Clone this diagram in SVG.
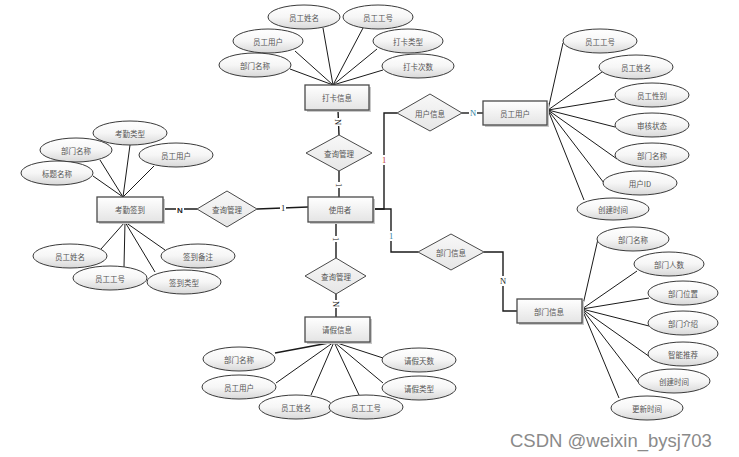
<svg xmlns="http://www.w3.org/2000/svg" width="739" height="457" viewBox="0 0 739 457">
<defs>
<linearGradient id="ge" x1="0" y1="0" x2="0" y2="1">
<stop offset="0" stop-color="#ffffff"/><stop offset="0.5" stop-color="#f6f6f6"/><stop offset="1" stop-color="#d8d8d8"/>
</linearGradient>
<linearGradient id="gr" x1="0" y1="0" x2="0" y2="1">
<stop offset="0" stop-color="#ffffff"/><stop offset="1" stop-color="#e4e4e4"/>
</linearGradient>
<linearGradient id="gd" x1="0" y1="0" x2="0" y2="1">
<stop offset="0" stop-color="#f8f8f8"/><stop offset="1" stop-color="#e6e6e6"/>
</linearGradient>
</defs>
<style>
ellipse{fill:url(#ge);stroke:#3a3a3a;stroke-width:1}
.en rect.b{fill:url(#gr);stroke:#4a4a4a;stroke-width:1.3}
.en rect.s{fill:#c8c8c8;stroke:none}
polygon{fill:url(#gd);stroke:#4a4a4a;stroke-width:1}
text{font-family:"Noto Sans CJK SC","Liberation Sans",sans-serif;font-size:7.5px;fill:#555;text-anchor:middle;dominant-baseline:central}
#connectors line,#connectors polyline{stroke:#1a1a1a;stroke-width:1;fill:none}
#connectors .t{stroke-width:1.4}
#connectors rect{fill:#ffffff;stroke:none}
.lb{font-family:"Liberation Serif",serif;font-size:8.5px;fill:#222}
.red{fill:#c03030}
.blue{fill:#3080a0}
.wm{font-family:"Liberation Sans",Arial,sans-serif;font-size:18.5px;fill:#8a8a8a;text-anchor:start;dominant-baseline:alphabetic}
</style>
<g id="connectors">
<line x1="323" y1="28" x2="333" y2="85"/>
<line x1="363" y1="28" x2="333" y2="85"/>
<line x1="295" y1="51" x2="333" y2="85"/>
<line x1="377" y1="49" x2="333" y2="85"/>
<line x1="290" y1="69" x2="333" y2="85"/>
<line x1="383" y1="70" x2="333" y2="85"/>
<line x1="130" y1="145" x2="123" y2="197"/>
<line x1="100" y1="160" x2="123" y2="197"/>
<line x1="154" y1="166" x2="123" y2="197"/>
<line x1="93" y1="176" x2="123" y2="197"/>
<line x1="101" y1="249" x2="125" y2="222"/>
<line x1="124" y1="267" x2="125" y2="222"/>
<line x1="165" y1="250" x2="125" y2="222"/>
<line x1="155" y1="272" x2="125" y2="222"/>
<line x1="563" y1="43" x2="548" y2="110"/>
<line x1="602" y1="72" x2="548" y2="110"/>
<line x1="615" y1="99" x2="548" y2="110"/>
<line x1="615" y1="127" x2="548" y2="110"/>
<line x1="617" y1="159" x2="548" y2="110"/>
<line x1="604" y1="183" x2="548" y2="110"/>
<line x1="584" y1="200" x2="548" y2="110"/>
<line x1="598" y1="239" x2="582" y2="309"/>
<line x1="637" y1="271" x2="582" y2="309"/>
<line x1="649" y1="298" x2="582" y2="309"/>
<line x1="649" y1="326" x2="582" y2="309"/>
<line x1="650" y1="357" x2="582" y2="309"/>
<line x1="639" y1="383" x2="582" y2="309"/>
<line x1="619" y1="398" x2="582" y2="309"/>
<line x1="275" y1="353" x2="334" y2="342" class="t"/>
<line x1="276" y1="383" x2="334" y2="342"/>
<line x1="311" y1="395" x2="334" y2="342"/>
<line x1="359" y1="395" x2="334" y2="342"/>
<line x1="383" y1="358" x2="334" y2="342"/>
<line x1="383" y1="383" x2="334" y2="342"/>
<line x1="163" y1="209" x2="197" y2="209" class="t"/>
<line x1="257" y1="209" x2="308" y2="207" class="t"/>
<line x1="338" y1="110" x2="339" y2="135" class="t"/>
<line x1="339" y1="171" x2="339" y2="197" class="t"/>
<line x1="336" y1="222" x2="336" y2="258" class="t"/>
<line x1="336" y1="294" x2="336" y2="317" class="t"/>
<polyline points="373,209 384,209 384,113 397,113" class="t"/>
<line x1="462" y1="113" x2="483" y2="113" class="t"/>
<polyline points="373,209 391,209 391,252 418,252" class="t"/>
<polyline points="484,252 503,252 503,311 517,311" class="t"/>
<rect x="176" y="205" width="8" height="9"/>
<text class="lb" x="180" y="210" style="font-family:'Liberation Sans',sans-serif;font-weight:bold;font-size:8px">N</text>
<rect x="280" y="204" width="6" height="9"/>
<text class="lb" x="283" y="208">1</text>
<rect x="334" y="118" width="9" height="8"/>
<text class="lb" x="338" y="122" transform="rotate(90 338 122)">N</text>
<rect x="335" y="182" width="9" height="6"/>
<text class="lb" x="339" y="185" transform="rotate(90 339 185)">1</text>
<rect x="332" y="236" width="9" height="6"/>
<text class="lb" x="336" y="239" transform="rotate(90 336 239)">1</text>
<rect x="332" y="300" width="9" height="8"/>
<text class="lb" x="336" y="304" transform="rotate(90 336 304)">N</text>
<rect x="381" y="155" width="6" height="10"/>
<text class="lb red" x="384" y="160">1</text>
<rect x="469" y="108" width="8" height="10"/>
<text class="lb blue" x="473" y="113">N</text>
<rect x="388" y="231" width="6" height="10"/>
<text class="lb blue" x="391" y="236">1</text>
<rect x="499" y="276" width="8" height="10"/>
<text class="lb" x="503" y="281">N</text>
</g>
<g id="daka" class="en"><rect class="s" x="307" y="87" width="64" height="25"/><rect class="b" x="305" y="85" width="64" height="25"/><text x="337" y="97.5">打卡信息</text></g>
<g id="daka-ygxm"><ellipse cx="304" cy="17" rx="36" ry="12"/><text x="304" y="17">员工姓名</text></g>
<g id="daka-yggh"><ellipse cx="378" cy="17" rx="35" ry="12"/><text x="378" y="17">员工工号</text></g>
<g id="daka-ygyh"><ellipse cx="268" cy="41" rx="35" ry="12"/><text x="268" y="41">员工用户</text></g>
<g id="daka-dklx"><ellipse cx="408" cy="41" rx="35" ry="12"/><text x="408" y="41">打卡类型</text></g>
<g id="daka-bmmc"><ellipse cx="255" cy="65" rx="36" ry="12"/><text x="255" y="65">部门名称</text></g>
<g id="daka-dkcs"><ellipse cx="418" cy="66" rx="36" ry="12"/><text x="418" y="66">打卡次数</text></g>
<g id="kaoqin" class="en"><rect class="s" x="99" y="199" width="66" height="25"/><rect class="b" x="97" y="197" width="66" height="25"/><text x="130" y="209.5">考勤签到</text></g>
<g id="kq-kqlx"><ellipse cx="130" cy="133" rx="37" ry="12"/><text x="130" y="133">考勤类型</text></g>
<g id="kq-bmmc"><ellipse cx="76" cy="150" rx="36" ry="12"/><text x="76" y="150">部门名称</text></g>
<g id="kq-ygyh"><ellipse cx="176" cy="155" rx="37" ry="12"/><text x="176" y="155">员工用户</text></g>
<g id="kq-btmc"><ellipse cx="57" cy="173" rx="36" ry="12"/><text x="57" y="173">标题名称</text></g>
<g id="kq-ygxm"><ellipse cx="70" cy="256" rx="37" ry="12"/><text x="70" y="256">员工姓名</text></g>
<g id="kq-qdbz"><ellipse cx="198" cy="256" rx="37" ry="12"/><text x="198" y="256">签到备注</text></g>
<g id="kq-yggh"><ellipse cx="110" cy="278" rx="37" ry="12"/><text x="110" y="278">员工工号</text></g>
<g id="kq-qdlx"><ellipse cx="184" cy="282" rx="37" ry="12"/><text x="184" y="282">签到类型</text></g>
<g id="rel-left"><polygon points="197,209 227,191 257,209 227,227"/><text x="227" y="209">查询管理</text></g>
<g id="rel-top"><polygon points="306,153 339,135 372,153 339,171"/><text x="339" y="153">查询管理</text></g>
<g id="rel-bottom"><polygon points="305,276 336,258 366,276 336,294"/><text x="336" y="276">查询管理</text></g>
<g id="rel-user"><polygon points="397,113 430,94 462,113 430,131"/><text x="430" y="113">用户信息</text></g>
<g id="rel-dept"><polygon points="418,252 451,234 484,252 451,270"/><text x="451" y="252">部门信息</text></g>
<g id="user" class="en"><rect class="s" x="310" y="199" width="65" height="25"/><rect class="b" x="308" y="197" width="65" height="25"/><text x="340" y="209.5">使用者</text></g>
<g id="yuangong" class="en"><rect class="s" x="485" y="103" width="64" height="24"/><rect class="b" x="483" y="101" width="64" height="24"/><text x="515" y="113">员工用户</text></g>
<g id="yg-yggh"><ellipse cx="600" cy="41" rx="37" ry="12"/><text x="600" y="41">员工工号</text></g>
<g id="yg-ygxm"><ellipse cx="636" cy="67" rx="37" ry="12"/><text x="636" y="67">员工姓名</text></g>
<g id="yg-ygxb"><ellipse cx="652" cy="95" rx="37" ry="12"/><text x="652" y="95">员工性别</text></g>
<g id="yg-shzt"><ellipse cx="652" cy="125" rx="37" ry="12"/><text x="652" y="125">审核状态</text></g>
<g id="yg-bmmc"><ellipse cx="652" cy="155" rx="37" ry="12"/><text x="652" y="155">部门名称</text></g>
<g id="yg-yhid"><ellipse cx="640" cy="183" rx="37" ry="12"/><text x="640" y="183">用户ID</text></g>
<g id="yg-cjsj"><ellipse cx="613" cy="209" rx="36" ry="11"/><text x="613" y="209">创建时间</text></g>
<g id="bumen" class="en"><rect class="s" x="519" y="301" width="65" height="24"/><rect class="b" x="517" y="299" width="65" height="24"/><text x="549" y="311">部门信息</text></g>
<g id="bm-bmmc"><ellipse cx="633" cy="239" rx="36" ry="12"/><text x="633" y="239">部门名称</text></g>
<g id="bm-bmrs"><ellipse cx="669" cy="264" rx="35" ry="12"/><text x="669" y="264">部门人数</text></g>
<g id="bm-bmwz"><ellipse cx="683" cy="293" rx="35" ry="12"/><text x="683" y="293">部门位置</text></g>
<g id="bm-bmjs"><ellipse cx="683" cy="323" rx="35" ry="12"/><text x="683" y="323">部门介绍</text></g>
<g id="bm-zntj"><ellipse cx="683" cy="354" rx="35" ry="12"/><text x="683" y="354">智能推荐</text></g>
<g id="bm-cjsj"><ellipse cx="674" cy="381" rx="36" ry="12"/><text x="674" y="381">创建时间</text></g>
<g id="bm-gxsj"><ellipse cx="647" cy="408" rx="36" ry="12"/><text x="647" y="408">更新时间</text></g>
<g id="qingjia" class="en"><rect class="s" x="307" y="319" width="65" height="25"/><rect class="b" x="305" y="317" width="65" height="25"/><text x="337" y="329.5">请假信息</text></g>
<g id="qj-bmmc"><ellipse cx="239" cy="359" rx="36" ry="12"/><text x="239" y="359">部门名称</text></g>
<g id="qj-ygyh"><ellipse cx="239" cy="387" rx="37" ry="12"/><text x="239" y="387">员工用户</text></g>
<g id="qj-ygxm"><ellipse cx="296" cy="407" rx="37" ry="12"/><text x="296" y="407">员工姓名</text></g>
<g id="qj-yggh"><ellipse cx="366" cy="407" rx="37" ry="12"/><text x="366" y="407">员工工号</text></g>
<g id="qj-qjts"><ellipse cx="419" cy="360" rx="37" ry="12"/><text x="419" y="360">请假天数</text></g>
<g id="qj-qjlx"><ellipse cx="419" cy="388" rx="37" ry="12"/><text x="419" y="388">请假类型</text></g>
<text class="wm" x="510" y="447">CSDN @weixin_bysj703</text>
</svg>
